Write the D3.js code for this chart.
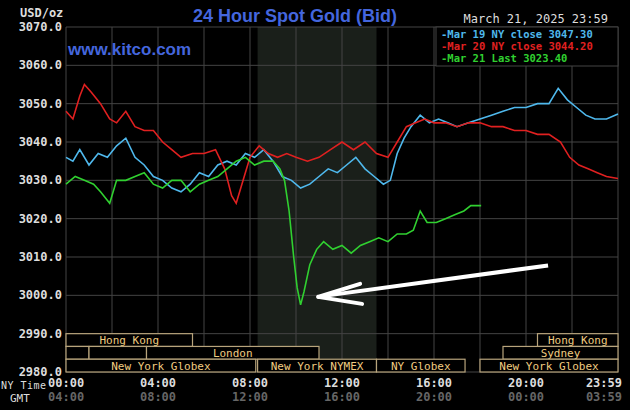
<!DOCTYPE html>
<html><head><meta charset="utf-8">
<script src="https://cdn.jsdelivr.net/npm/d3@7"></script>
<style>body{margin:0;background:#000}</style>
</head><body><svg id="c" width="630" height="410"></svg>
<script>
// price ticks and time labels
const yTicks = [2980, 2990, 3000, 3010, 3020, 3030, 3040, 3050, 3060, 3070];
const nyLabels = ["00:00", "04:00", "08:00", "12:00", "16:00", "20:00", "23:59"];
const gmtLabels = ["04:00", "08:00", "12:00", "16:00", "20:00", "00:00", "03:59"];
const labelHours = [0, 4, 8, 12, 16, 20, 24];

// [hour, price]
const mar19 = [[0,3036],[0.3,3035],[0.6,3038],[1,3034],[1.4,3037],[1.8,3036],[2.2,3039],[2.6,3041],[3,3036],[3.4,3034],[3.8,3031],[4.2,3030],[4.6,3028],[5,3027],[5.4,3029],[5.8,3032],[6.2,3031],[6.6,3034],[7,3035],[7.4,3034],[7.8,3037],[8.2,3036],[8.6,3038],[9,3035],[9.4,3031],[9.8,3030],[10.2,3028],[10.6,3029],[11,3031],[11.4,3033],[11.8,3032],[12.2,3034],[12.6,3036],[13,3033],[13.4,3031],[13.8,3029],[14.1,3030],[14.4,3037],[14.7,3041],[15,3044],[15.4,3047],[15.8,3045],[16.2,3046],[16.6,3045],[17,3044],[17.5,3045],[18,3046],[18.5,3047],[19,3048],[19.5,3049],[20,3049],[20.5,3050],[21,3050],[21.4,3054],[21.8,3051],[22.2,3049],[22.6,3047],[23,3046],[23.5,3046],[24,3047.3]];
const mar20 = [[0,3048],[0.3,3046],[0.6,3052],[0.8,3055],[1.1,3053],[1.5,3050],[1.9,3046],[2.2,3045],[2.6,3048],[3,3044],[3.4,3043],[3.8,3043],[4.2,3040],[4.6,3038],[5,3036],[5.5,3037],[6,3037],[6.5,3038],[6.9,3033],[7.2,3026],[7.4,3024],[7.7,3030],[8,3036],[8.4,3039],[8.8,3037],[9.2,3036],[9.6,3037],[10,3036],[10.5,3035],[11,3036],[11.5,3038],[12,3040],[12.5,3038],[13,3040],[13.5,3037],[14,3036],[14.4,3040],[14.8,3044],[15.2,3045],[15.6,3046],[16,3045],[16.5,3045],[17,3044],[17.5,3045],[18,3045],[18.5,3044],[19,3044],[19.5,3043],[20,3043],[20.5,3042],[21,3042],[21.5,3040],[21.9,3036],[22.3,3034],[22.7,3033],[23.1,3032],[23.5,3031],[24,3030.5]];
const mar21 = [[0,3029],[0.4,3031],[0.8,3030],[1.2,3029],[1.5,3027],[1.9,3024],[2.2,3030],[2.6,3030],[3,3031],[3.4,3032],[3.8,3029],[4.2,3028],[4.6,3030],[5,3030],[5.4,3027],[5.8,3029],[6.2,3030],[6.6,3031],[7,3033],[7.4,3035],[7.8,3036],[8.2,3034],[8.6,3035],[9,3035],[9.3,3033],[9.5,3030],[9.7,3022],[9.9,3010],[10.05,3002],[10.2,2997.5],[10.35,3001],[10.6,3008],[10.9,3012],[11.2,3014],[11.6,3012],[12,3013],[12.4,3011],[12.8,3013],[13.2,3014],[13.6,3015],[14,3014],[14.4,3016],[14.8,3016],[15.1,3017],[15.4,3022],[15.7,3019],[16.1,3019],[16.5,3020],[16.9,3021],[17.3,3022],[17.6,3023.4],[18.05,3023.4]];

const sessions = [
  {row:0,from:0,to:5.5,label:"Hong Kong"},{row:0,from:20.5,to:24,label:"Hong Kong"},
  {row:1,from:0,to:1,label:""},{row:1,from:1,to:3.5,label:""},{row:1,from:3.5,to:11,label:"London"},{row:1,from:19,to:24,label:"Sydney"},
  {row:2,from:0,to:8.25,label:"New York Globex"},{row:2,from:8.33,to:13.5,label:"New York NYMEX"},{row:2,from:13.5,to:17.35,label:"NY Globex"},{row:2,from:18,to:24,label:"New York Globex"}
];
const legend = [
  {label:"Mar 19 NY close 3047.30", color:"#4fb8ec"},
  {label:"Mar 20 NY close 3044.20", color:"#e02020"},
  {label:"Mar 21 Last 3023.40", color:"#30d030"}
];

const svg = d3.select("#c");
const mono = "'DejaVu Sans Mono', monospace";
const x = d3.scaleLinear().domain([0, 24]).range([66, 618]);
const y = d3.scaleLinear().domain([2980, 3070]).range([372, 27]);

// shaded NYMEX session
svg.append("rect").attr("x", x(8.33)).attr("y", y(3070)).attr("width", x(13.5) - x(8.33))
  .attr("height", y(2980) - y(3070)).attr("fill", "#1a1f1a");

// grid
svg.append("g").selectAll("line").data(d3.range(0, 25, 2)).join("line")
  .attr("x1", d => x(d)).attr("x2", d => x(d)).attr("y1", y(3070)).attr("y2", y(2980))
  .attr("stroke", "#444").attr("stroke-width", 1);
svg.append("g").selectAll("line").data(yTicks).join("line")
  .attr("x1", x(0)).attr("x2", x(24)).attr("y1", d => y(d)).attr("y2", d => y(d))
  .attr("stroke", "#444").attr("stroke-width", 1);

// y labels
svg.append("g").selectAll("text").data(yTicks).join("text")
  .attr("x", 62).attr("y", d => y(d) + 4).attr("text-anchor", "end")
  .attr("font-family", mono).attr("font-size", 12).attr("font-weight", "bold").attr("fill", "#ddd")
  .text(d => d.toFixed(1));
svg.append("text").attr("x", 20).attr("y", 17).attr("font-family", mono).attr("font-size", 12)
  .attr("font-weight", "bold").attr("fill", "#ddd").text("USD/oz");

// sessions
const rowH = (y(2980) - y(2990)) / 3;
const sg = svg.append("g").selectAll("g").data(sessions).join("g");
sg.append("rect").attr("x", d => x(d.from)).attr("y", d => y(2990) + d.row * rowH)
  .attr("width", d => x(d.to) - x(d.from)).attr("height", rowH)
  .attr("fill", "#000").attr("stroke", "#b8a47c").attr("stroke-width", 1.2);
sg.append("text").attr("x", d => (x(d.from) + x(d.to)) / 2).attr("y", d => y(2990) + d.row * rowH + rowH - 2.5)
  .attr("text-anchor", "middle").attr("font-family", mono).attr("font-size", 11)
  .attr("fill", "#f0cc80").text(d => d.label);

// time labels
const tl = svg.append("g").selectAll("g").data(labelHours).join("g");
tl.append("text").attr("x", d => x(d)).attr("y", 387).attr("text-anchor", (d, i) => i == 0 ? "start" : i == 6 ? "end" : "middle")
  .attr("dx", (d, i) => i == 0 ? -18 : i == 6 ? 4 : 0)
  .attr("font-family", mono).attr("font-size", 12).attr("font-weight", "bold").attr("fill", "#ddd").text((d, i) => nyLabels[i]);
tl.append("text").attr("x", d => x(d)).attr("y", 401).attr("text-anchor", (d, i) => i == 0 ? "start" : i == 6 ? "end" : "middle")
  .attr("dx", (d, i) => i == 0 ? -18 : i == 6 ? 4 : 0)
  .attr("font-family", mono).attr("font-size", 12).attr("font-weight", "bold").attr("fill", "#666").text((d, i) => gmtLabels[i]);
svg.append("text").attr("x", 1).attr("y", 389).attr("font-family", mono).attr("font-size", 10)
  .attr("textLength", 45).attr("fill", "#ddd").text("NY Time");
svg.append("text").attr("x", 10).attr("y", 402).attr("font-family", mono).attr("font-size", 11).attr("fill", "#ddd").text("GMT");

// lines
const line = d3.line().x(d => x(d[0])).y(d => y(d[1]));
[[mar19, legend[0].color], [mar20, legend[1].color], [mar21, legend[2].color]].forEach(([data, c]) => {
  svg.append("path").datum(data).attr("d", line).attr("fill", "none").attr("stroke", c).attr("stroke-width", 1.6);
});

// arrow
const a0 = [20.96, 3007.8], a1 = [10.96, 2999.6];
svg.append("line").attr("x1", x(a0[0])).attr("y1", y(a0[1])).attr("x2", x(a1[0]) + 6).attr("y2", y(a1[1]) - 1)
  .attr("stroke", "#fff").attr("stroke-width", 4);
svg.append("path")
  .attr("d", `M${x(a1[0])},${y(a1[1])} l42,-13 M${x(a1[0])},${y(a1[1])} l44,7`)
  .attr("stroke", "#fff").attr("stroke-width", 4).attr("fill", "none").attr("stroke-linecap", "round");

// legend
svg.append("rect").attr("x", 436).attr("y", 27).attr("width", 182).attr("height", 39)
  .attr("fill", "#000").attr("stroke", "#444");
svg.append("g").selectAll("text").data(legend).join("text")
  .attr("x", 441).attr("y", (d, i) => 38 + i * 12).attr("font-family", mono).attr("font-size", 10.5)
  .attr("font-weight", "bold").attr("fill", d => d.color).text(d => "-" + d.label);

// titles
svg.append("text").attr("x", 295).attr("y", 22).attr("text-anchor", "middle").attr("font-family", "'Liberation Sans', Arial")
  .attr("font-size", 18).attr("font-weight", "bold").attr("fill", "#4466dd").text("24 Hour Spot Gold (Bid)");
svg.append("text").attr("x", 68).attr("y", 55).attr("font-family", "'Liberation Sans', Arial")
  .attr("font-size", 17).attr("font-weight", "bold").attr("fill", "#4466dd").text("www.kitco.com");
svg.append("text").attr("x", 608).attr("y", 23).attr("text-anchor", "end").attr("font-family", mono)
  .attr("font-size", 12).attr("fill", "#ddd").text("March 21, 2025 23:59");
</script></body></html>
